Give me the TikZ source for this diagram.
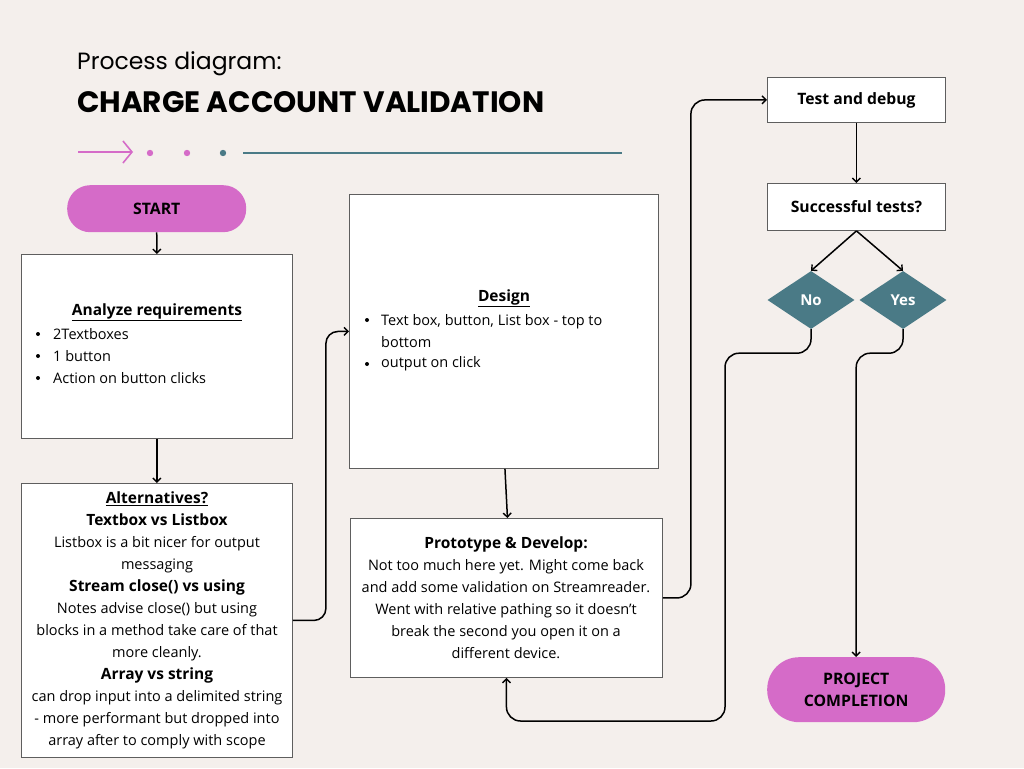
\documentclass[tikz,border=0pt]{standalone}
\usepackage{fontspec}
\setmainfont{Open Sans}
\newfontfamily\titlefont{Poppins}
\usetikzlibrary{shapes.geometric,arrows.meta}
\definecolor{bg}{HTML}{F4EFEC}
\definecolor{pill}{HTML}{D56BC8}
\definecolor{tealc}{HTML}{4A7A86}
\definecolor{edgec}{HTML}{5E5E5E}
\newcommand{\hd}[1]{{\fontsize{15.5}{22}\selectfont\bfseries #1}}
\begin{document}
\begin{tikzpicture}[x=1pt,y=-1pt,
  box/.style={draw=edgec, line width=0.9pt, fill=white, inner sep=0pt, anchor=north west},
  pillbox/.style={fill=pill, rounded corners=23pt, inner sep=0pt, anchor=north west, font=\bfseries\fontsize{15.8}{22}\selectfont, align=center},
  dia/.style={diamond, fill=tealc, inner sep=0pt, minimum width=87pt, minimum height=58pt, text=white, font=\bfseries\fontsize{15}{18}\selectfont},
  body/.style={font=\fontsize{14.5}{22}\selectfont, inner sep=0pt},
  conn/.style={draw, line width=1.5pt, rounded corners=12pt, -{Straight Barb[length=4pt,width=8pt,line width=1.4pt]}},
  plain/.style={inner sep=0pt}]
\useasboundingbox (0,0) rectangle (1024,768);
\fill[bg] (0,0) rectangle (1024,768);

% header
\node[plain, anchor=base west, font=\titlefont\fontsize{23.5}{26}\selectfont] (sub) at (77,70) {Process diagram:};
\node[plain, anchor=base west, font=\titlefont\bfseries\fontsize{29.5}{32}\selectfont] (title) at (77,112) {CHARGE ACCOUNT VALIDATION};
\coordinate (a0) at (78,152);
\coordinate (a1) at (133,152);
\draw[pill, line width=1.6pt, -{Straight Barb[length=9pt,width=22pt,line width=1.6pt]}] (a0) -- (a1);
\fill[pill] (150,153) circle (3.2pt);
\fill[pill] (187,153) circle (3.2pt);
\fill[tealc] (223,153) circle (3.2pt);
\coordinate (l0) at (243,153);
\coordinate (l1) at (622,153);
\draw[tealc, line width=1.6pt] (l0) -- (l1);

% nodes
\node[pillbox, minimum width=179pt, minimum height=47pt] (start) at (67,185) {START};
\node[box, minimum width=271pt, minimum height=184pt] (analyze) at (21,254) {};
\node[box, minimum width=271pt, minimum height=274pt] (alt) at (21,483) {};
\node[box, minimum width=309pt, minimum height=274pt] (design) at (349,194) {};
\node[box, minimum width=312pt, minimum height=159pt] (proto) at (350,518) {};
\node[box, minimum width=178pt, minimum height=45pt, font=\bfseries\fontsize{15.7}{18}\selectfont] (test) at (767,77) {Test and debug};
\node[box, minimum width=178pt, minimum height=47pt, font=\bfseries\fontsize{15.7}{18}\selectfont] (succ) at (767,183) {Successful tests?};
\node[dia] (no) at (811,300) {No};
\node[dia] (yes) at (903,300) {Yes};
\node[pillbox, minimum width=178pt, minimum height=65pt, rounded corners=32pt] (done) at (767,657) {PROJECT\\COMPLETION};

% texts
\node[body] (anh) at (157,312) {\hd{\underline{Analyze requirements}}};
\node[body, anchor=west] (an1) at (53,334) {2Textboxes};
\node[body, anchor=west] (an2) at (53,356) {1 button};
\node[body, anchor=west] (an3) at (53,378) {Action on button clicks};
\foreach \yy in {334,356,378} \fill (38,\yy) circle (2pt);

\node[body, align=center] (alttxt) at (157,620) {\hd{\underline{Alternatives?}}\\
\hd{Textbox vs Listbox}\\
Listbox is a bit nicer for output\\
messaging\\
\hd{Stream close() vs using}\\
Notes advise close() but using\\
blocks in a method take care of that\\
more cleanly.\\
\hd{Array vs string}\\
can drop input into a delimited string\\
- more performant but dropped into\\
array after to comply with scope};

\node[body] (dh) at (504,298) {\hd{\underline{Design}}};
\node[body, anchor=west, align=left] (d1) at (381,331) {Text box, button, List box - top to\\bottom};
\node[body, anchor=west] (d2) at (381,364) {output on click};
\foreach \yy in {320,364} \fill (367,\yy) circle (2pt);

\node[body, align=center] (prototxt) at (506,598) {\hd{Prototype \& Develop:}\\
Not too much here yet. Might come back\\
and add some validation on Streamreader.\\
Went with relative pathing so it doesn’t\\
break the second you open it on a\\
different device.};

% connectors
\draw[conn] (start) -- (analyze);
\draw[conn] (analyze) -- (alt);
\draw[conn] (alt.east) -- ++(33,0) |- (design.west);
\draw[conn] ([xshift=1pt]design.south) -- ([xshift=1pt]proto.north);
\draw[conn, rounded corners=14pt] (proto.east) -- ++(28,0) |- (test.west);
\draw[conn] (test) -- (succ);
\draw[conn, rounded corners=0pt] (succ.south) -- (no.north);
\draw[conn, rounded corners=0pt] (succ.south) -- (yes.north);
\coordinate (nturn) at (725,721);
\draw[conn, rounded corners=14pt] (no.south) -- ++(0,24) -| (nturn) -| (proto.south);
\draw[conn, rounded corners=14pt] (yes.south) -- ++(0,24) -| (done.north);
\end{tikzpicture}
\end{document}
